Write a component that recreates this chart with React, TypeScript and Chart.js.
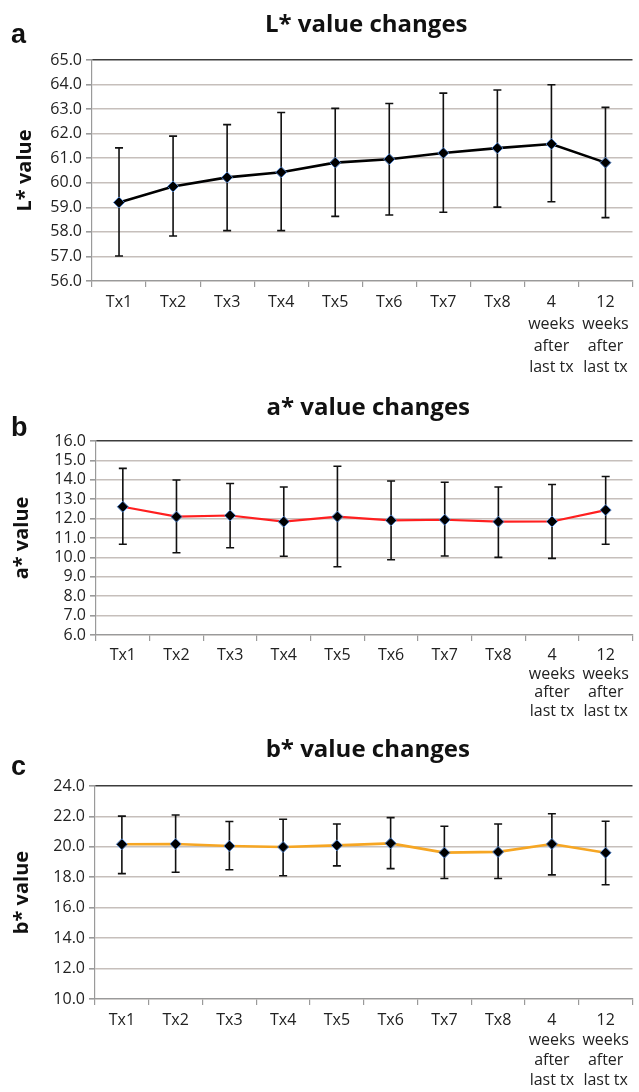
import React, { useEffect, useRef } from 'react';
import { Chart, registerables } from 'chart.js';

Chart.register(...registerables);

// ---------- data ----------
const categories: string[][] = [
  ['Tx1'], ['Tx2'], ['Tx3'], ['Tx4'], ['Tx5'], ['Tx6'], ['Tx7'], ['Tx8'],
  ['4', 'weeks', 'after', 'last tx'],
  ['12', 'weeks', 'after', 'last tx'],
];

const lMean = [59.2, 59.85, 60.22, 60.43, 60.82, 60.96, 61.21, 61.41, 61.58, 60.82];
const lUpper = [61.42, 61.9, 62.37, 62.86, 63.03, 63.23, 63.65, 63.78, 63.99, 63.07];
const lLower = [57.02, 57.83, 58.05, 58.05, 58.63, 58.69, 58.8, 59.01, 59.23, 58.58];

const aMean = [12.61, 12.1, 12.16, 11.84, 12.1, 11.91, 11.94, 11.84, 11.85, 12.44];
const aUpper = [14.59, 13.99, 13.81, 13.63, 14.7, 13.94, 13.87, 13.63, 13.76, 14.17];
const aLower = [10.68, 10.24, 10.5, 10.06, 9.52, 9.88, 10.07, 10.0, 9.95, 10.68];

const bMean = [20.17, 20.19, 20.06, 19.99, 20.1, 20.23, 19.62, 19.67, 20.19, 19.61];
const bUpper = [22.02, 22.09, 21.67, 21.81, 21.5, 21.92, 21.35, 21.5, 22.18, 21.68];
const bLower = [18.24, 18.33, 18.5, 18.1, 18.75, 18.57, 17.92, 17.92, 18.16, 17.51];

const lTicks = { min: 56, max: 65, step: 1 };
const aTicks = { min: 6, max: 16, step: 1 };
const bTicks = { min: 10, max: 24, step: 2 };

// ---------- layout / style ----------
type Panel = {
  letter: string; title: string; yTitle: string;
  mean: number[]; upper: number[]; lower: number[];
  ticks: { min: number; max: number; step: number };
  color: string; lineWidth: number;
  top: number; height: number; plotTop: number; plotBottom: number; plotLeft: number;
  titleBaseline: number; letterBaseline: number; yTitleX: number; labelLineHeight: number;
};

const panels: Panel[] = [
  {
    letter: 'a', title: 'L* value changes', yTitle: 'L* value',
    mean: lMean, upper: lUpper, lower: lLower, ticks: lTicks,
    color: '#000000', lineWidth: 2.6,
    top: 0, height: 372, plotTop: 60, plotBottom: 281, plotLeft: 92,
    titleBaseline: 32, letterBaseline: 43, yTitleX: 25, labelLineHeight: 1.35,
  },
  {
    letter: 'b', title: 'a* value changes', yTitle: 'a* value',
    mean: aMean, upper: aUpper, lower: aLower, ticks: aTicks,
    color: '#ff1f1f', lineWidth: 2.2,
    top: 372, height: 348, plotTop: 69, plotBottom: 263, plotLeft: 96,
    titleBaseline: 43, letterBaseline: 64, yTitleX: 22, labelLineHeight: 1.17,
  },
  {
    letter: 'c', title: 'b* value changes', yTitle: 'b* value',
    mean: bMean, upper: bUpper, lower: bLower, ticks: bTicks,
    color: '#f6a623', lineWidth: 2.6,
    top: 720, height: 372, plotTop: 66, plotBottom: 279, plotLeft: 95,
    titleBaseline: 37, letterBaseline: 55, yTitleX: 22, labelLineHeight: 1.25,
  },
];

const WIDTH = 639;
const FONT = "'Open Sans', 'DejaVu Sans', sans-serif";

function makeChart(canvas: HTMLCanvasElement, p: Panel) {
  const decorPlugin = {
    id: 'decor' + p.letter,
    beforeDatasetsDraw(chart: any) {
      const { ctx, scales } = chart;
      const xs = scales.x;
      const ys = scales.y;
      ctx.save();
      ctx.strokeStyle = '#111111';
      ctx.lineWidth = 1.6;
      for (let i = 0; i < p.mean.length; i++) {
        const x = xs.getPixelForValue(i);
        const yTop = ys.getPixelForValue(p.upper[i]);
        const yBot = ys.getPixelForValue(p.lower[i]);
        ctx.beginPath();
        ctx.moveTo(x, yTop);
        ctx.lineTo(x, yBot);
        ctx.moveTo(x - 4, yTop);
        ctx.lineTo(x + 4, yTop);
        ctx.moveTo(x - 4, yBot);
        ctx.lineTo(x + 4, yBot);
        ctx.stroke();
      }
      ctx.restore();
    },
    afterDraw(chart: any) {
      const { ctx, chartArea } = chart;
      ctx.save();
      ctx.fillStyle = '#111111';
      ctx.textBaseline = 'alphabetic';
      ctx.textAlign = 'center';
      ctx.font = `bold 24px ${FONT}`;
      ctx.fillText(p.title, (chartArea.left + chartArea.right) / 2 + 4, p.titleBaseline);
      ctx.textAlign = 'left';
      ctx.font = `bold 27px 'Liberation Sans', Arial, sans-serif`;
      ctx.fillText(p.letter, 11, p.letterBaseline);
      ctx.restore();
    },
  };

  return new Chart(canvas, {
    type: 'line',
    data: {
      labels: categories,
      datasets: [
        {
          data: p.mean,
          borderColor: p.color,
          borderWidth: p.lineWidth,
          backgroundColor: '#000000',
          pointStyle: 'rectRot',
          pointRadius: 5.5,
          pointBorderColor: '#4f7fc4',
          pointBorderWidth: 1,
          pointBackgroundColor: '#000000',
          tension: 0,
          fill: false,
        },
      ],
    },
    options: {
      animation: false,
      responsive: false,
      maintainAspectRatio: false,
      layout: { padding: { top: p.plotTop, left: 0, right: 0, bottom: 0 } },
      plugins: {
        legend: { display: false },
        tooltip: { enabled: false },
        title: { display: false },
      },
      scales: {
        x: {
          type: 'category',
          offset: true,
          afterFit: (scale: any) => { scale.height = p.height - p.plotBottom; },
          grid: {
            display: true,
            offset: true,
            drawOnChartArea: false,
            drawTicks: true,
            tickLength: 6,
            color: '#9a9a9a',
            lineWidth: 1.2,
          },
          border: { display: true, color: '#9a9a9a', width: 1.2 },
          ticks: {
            autoSkip: false,
            maxRotation: 0,
            minRotation: 0,
            padding: 5,
            color: '#222222',
            font: { family: FONT, size: 16, lineHeight: p.labelLineHeight },
          },
        },
        y: {
          min: p.ticks.min,
          max: p.ticks.max,
          afterFit: (scale: any) => { scale.width = p.plotLeft; },
          grid: {
            color: (c: any) => (c.tick && c.tick.value === p.ticks.max ? '#3c3c3c' : '#c6bfbb'),
            lineWidth: (c: any) => (c.tick && c.tick.value === p.ticks.max ? 1.6 : 1.6),
            tickColor: '#9a9a9a',
            tickLength: 6,
            drawTicks: true,
          },
          border: { display: true, color: '#9a9a9a', width: 1.2 },
          ticks: {
            stepSize: p.ticks.step,
            autoSkip: false,
            padding: 4,
            color: '#222222',
            font: { family: FONT, size: 16 },
            callback: (v: any) => Number(v).toFixed(1),
          },
          title: {
            display: true,
            text: p.yTitle,
            color: '#111111',
            font: { family: FONT, size: 20, weight: 'bold', lineHeight: 1.2 },
            padding: { top: p.yTitleX - 12, bottom: 0 },
          },
        },
      },
    },
    plugins: [decorPlugin],
  } as any);
}

function PanelChart({ p }: { p: Panel }) {
  const ref = useRef<HTMLCanvasElement | null>(null);
  useEffect(() => {
    if (!ref.current) return;
    const chart = makeChart(ref.current, p);
    return () => chart.destroy();
  }, [p]);
  return (
    <canvas
      ref={ref}
      width={WIDTH}
      height={p.height}
      style={{ position: 'absolute', left: 0, top: p.top, width: WIDTH, height: p.height, display: 'block' }}
    />
  );
}

export default function App() {
  return (
    <div style={{ position: 'absolute', left: 0, top: 0, width: WIDTH, height: 1092, background: '#ffffff', overflow: 'hidden' }}>
      {panels.map((p) => (
        <PanelChart key={p.letter} p={p} />
      ))}
    </div>
  );
}
